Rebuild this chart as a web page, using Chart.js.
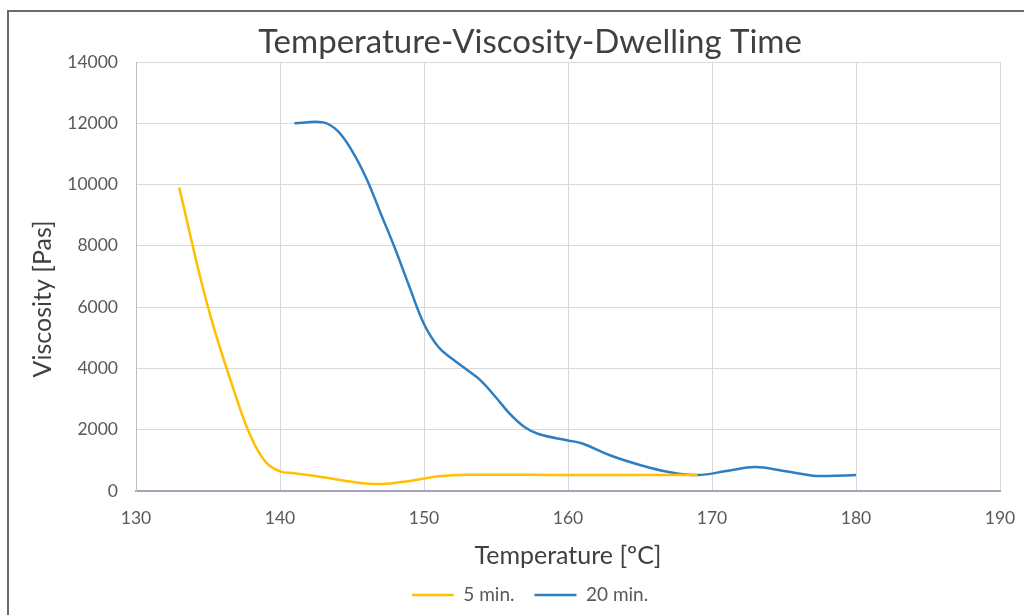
<!DOCTYPE html>
<html>
<head>
<meta charset="utf-8">
<script src="https://cdn.jsdelivr.net/npm/chart.js@4.4.1/dist/chart.umd.min.js"></script>
<style>
  html, body { margin: 0; padding: 0; background: #ffffff; }
  #wrap { position: relative; width: 1024px; height: 615px; overflow: hidden; background: #fff; }
  #frame { position: absolute; left: 7px; top: 10px; width: 1100px; height: 700px;
           border-left: 2px solid #6a6a6a; border-top: 2px solid #6a6a6a; pointer-events: none; }
  canvas { position: absolute; left: 0; top: 0; }
</style>
</head>
<body>
<div id="wrap">
  <canvas id="c" width="1024" height="615"></canvas>
  <div id="frame"></div>
</div>
<script>
// ---- Data ----
const chartTitle = 'Temperature-Viscosity-Dwelling Time';
const xTitle = 'Temperature [ºC]';
const yTitle = 'Viscosity [Pas]';
const seriesNames = ['5 min.', '20 min.'];

// 5 min. series
const temp5 = [133, 135, 137, 138, 139, 140, 141, 143, 145, 147, 149, 151, 153, 160, 169];
const visc5 = [9900, 6000, 3000, 1750, 950, 640, 580, 450, 300, 230, 330, 480, 530, 520, 520];

// 20 min. series
const temp20 = [141, 143, 144, 145, 146, 147, 148, 149, 150, 151, 152, 153, 154, 155, 156, 157, 158, 160, 161, 163, 165, 167, 169, 171, 173, 175, 177, 178, 180];
const visc20 = [12000, 12030, 11750, 11100, 10200, 9050, 7900, 6650, 5450, 4700, 4300, 3950, 3580, 3050, 2500, 2080, 1850, 1650, 1550, 1150, 850, 620, 520, 650, 780, 650, 500, 490, 520];

const xMin = 130, xMax = 190, xStep = 10;
const yMin = 0, yMax = 14000, yStep = 2000;

const colors = ['#FFC000', '#2E7FC2'];

function toPoints(xs, ys) { return xs.map((x, i) => ({ x: x, y: ys[i] })); }

const FONT = 'Lato, "Open Sans", sans-serif';

new Chart(document.getElementById('c'), {
  type: 'line',
  data: {
    datasets: [
      { label: seriesNames[0], data: toPoints(temp5, visc5), borderColor: colors[0], backgroundColor: colors[0],
        borderWidth: 2.5, pointRadius: 0, tension: 0.4, fill: false },
      { label: seriesNames[1], data: toPoints(temp20, visc20), borderColor: colors[1], backgroundColor: colors[1],
        borderWidth: 2.5, pointRadius: 0, tension: 0.4, fill: false }
    ]
  },
  options: {
    responsive: false,
    animation: false,
    layout: { padding: { left: 60, right: 24, top: 10, bottom: 0.5 } },
    plugins: {
      title: {
        display: true, text: chartTitle, color: '#404040',
        font: { family: FONT, size: 33, weight: 'normal' },
        padding: { top: 12.2, bottom: 0.2 }
      },
      legend: {
        display: true, position: 'bottom',
        labels: {
          usePointStyle: true, pointStyle: 'line', pointStyleWidth: 42,
          color: '#595959', font: { family: FONT, size: 19 }, padding: 20
        }
      },
      tooltip: { enabled: false }
    },
    scales: {
      x: {
        type: 'linear', min: xMin, max: xMax,
        ticks: { stepSize: xStep, color: '#595959', font: { family: FONT, size: 17.5 }, padding: 17,
                 callback: v => String(v) },
        grid: { color: '#d9d9d9', lineWidth: 1, drawTicks: false },
        border: { color: '#a3a6b8', width: 2 },
        title: { display: true, text: xTitle, color: '#404040', font: { family: FONT, size: 25 },
                 padding: { top: 0, bottom: -5.5 } },
        afterFit: s => { s.height = 74.5; s.paddingLeft = 0; s.paddingRight = 0; }
      },
      y: {
        type: 'linear', min: yMin, max: yMax,
        ticks: { stepSize: yStep, color: '#595959', font: { family: FONT, size: 17.5 }, padding: 18,
                 callback: v => String(v) },
        grid: { color: '#d9d9d9', lineWidth: 1, drawTicks: false },
        border: { color: '#bfbfbf', width: 1 },
        title: { display: true, text: yTitle + '       ', color: '#404040', font: { family: FONT, size: 25 },
                 padding: { top: -32, bottom: 0 } },
        afterFit: s => { s.width = 76; }
      }
    }
  }
});
</script>
</body>
</html>
